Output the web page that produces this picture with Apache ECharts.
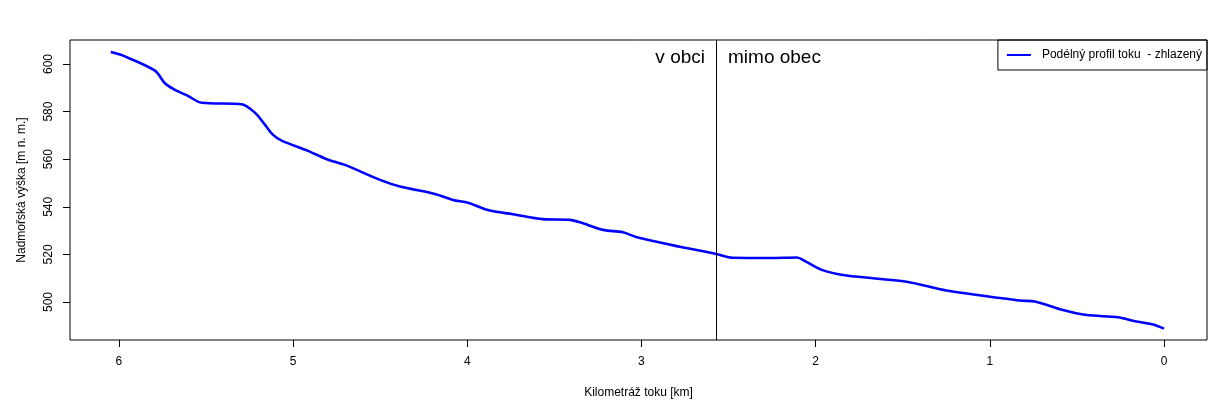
<!DOCTYPE html>
<html><head><meta charset="utf-8">
<script src="https://cdn.jsdelivr.net/npm/echarts@6/dist/echarts.min.js"></script>
<style>html,body{margin:0;padding:0;background:#fff}#c{width:1227px;height:408px}</style>
</head><body><div id="c"></div>
<script>
const km = [6.047,5.977,5.793,5.736,5.678,5.604,5.525,5.295,5.219,5.161,5.115,5.066,4.915,4.807,4.702,4.501,4.386,4.186,4.082,3.996,3.870,3.738,3.566,3.411,3.353,3.221,3.106,3.026,2.779,2.572,2.475,2.262,2.107,2.061,1.965,1.822,1.477,1.248,0.827,0.741,0.580,0.444,0.264,0.178,0.063,0.000];
const elev = [605.0,603.5,597.2,591.9,589.1,586.6,583.7,583.1,579.5,574.4,570.2,567.8,563.5,560.0,557.6,551.3,548.5,545.4,542.9,541.7,538.4,536.9,534.8,534.5,533.5,530.3,529.3,527.2,523.2,520.2,518.6,518.5,518.7,517.2,513.5,511.1,508.5,504.8,500.6,500.2,496.6,494.5,493.6,492.1,490.5,488.8];
const xTicks = [0,1,2,3,4,5,6];
const yTicks = [500,520,540,560,580,600];
const boundaryKm = 2.572;
const seriesName = 'Podélný profil toku  - zhlazený';
const labelLeft = 'v obci';
const labelRight = 'mimo obec';

const font = 'Liberation Sans, Arial, Helvetica, sans-serif';
const chart = echarts.init(document.getElementById('c'), null, {renderer:'canvas'});
chart.setOption({
  animation: false,
  backgroundColor: '#fff',
  grid: {left:70, right:20, top:40, bottom:68, show:true, borderColor:'#000', borderWidth:1, containLabel:false},
  legend: {
    right: 20, top: 40, orient:'horizontal',
    borderColor:'#000', borderWidth:1, borderRadius:0,
    padding:[9,5,9,9], itemWidth:24, itemHeight:2, itemGap:10,
    icon:'rect',
    textStyle:{fontFamily:font, fontSize:12, color:'#000', padding:[0,0,0,6]},
    data:[{name:seriesName, icon:'rect'}]
  },
  xAxis: {
    type:'value', inverse:true, min:-0.247, max:6.281,
    name:'Kilometráž toku [km]', nameLocation:'middle', nameGap:47,
    nameTextStyle:{fontFamily:font, fontSize:12, color:'#000'},
    axisLine:{show:false, onZero:false},
    axisTick:{show:true, inside:false, length:7, lineStyle:{color:'#000'}, customValues:xTicks},
    axisLabel:{show:true, margin:16, fontFamily:font, fontSize:12, color:'#000', customValues:xTicks},
    splitLine:{show:false}
  },
  yAxis: {
    type:'value', min:484.03, max:610.08,
    name:'Nadmořská výška [m n. m.]', nameLocation:'middle', nameGap:42, nameRotate:90,
    nameTextStyle:{fontFamily:font, fontSize:12, color:'#000'},
    axisLine:{show:false, onZero:false},
    axisTick:{show:true, inside:false, length:7, lineStyle:{color:'#000'}, customValues:yTicks},
    axisLabel:{show:true, rotate:90, margin:15, fontFamily:font, fontSize:12, color:'#000', customValues:yTicks},
    splitLine:{show:false}
  },
  series: [{
    name: seriesName, type:'line', showSymbol:false, symbol:'none', smooth:0.3,
    lineStyle:{color:'#0000FF', width:2.6}, itemStyle:{color:'#0000FF'},
    data: km.map((k,i)=>[k, elev[i]]),
    markLine: {
      silent:true, symbol:'none', animation:false,
      lineStyle:{color:'#000', width:1, type:'solid'},
      label:{show:false},
      data:[{xAxis: boundaryKm}]
    },
    markPoint: {
      silent:true, symbol:'circle', symbolSize:0,
      data:[
        {coord:[boundaryKm, 602.5], label:{show:true, position:'left', distance:11, formatter:labelLeft, fontFamily:font, fontSize:19, color:'#000'}},
        {coord:[boundaryKm, 602.5], label:{show:true, position:'right', distance:12, formatter:labelRight, fontFamily:font, fontSize:19, color:'#000'}}
      ]
    }
  }]
});
</script></body></html>
